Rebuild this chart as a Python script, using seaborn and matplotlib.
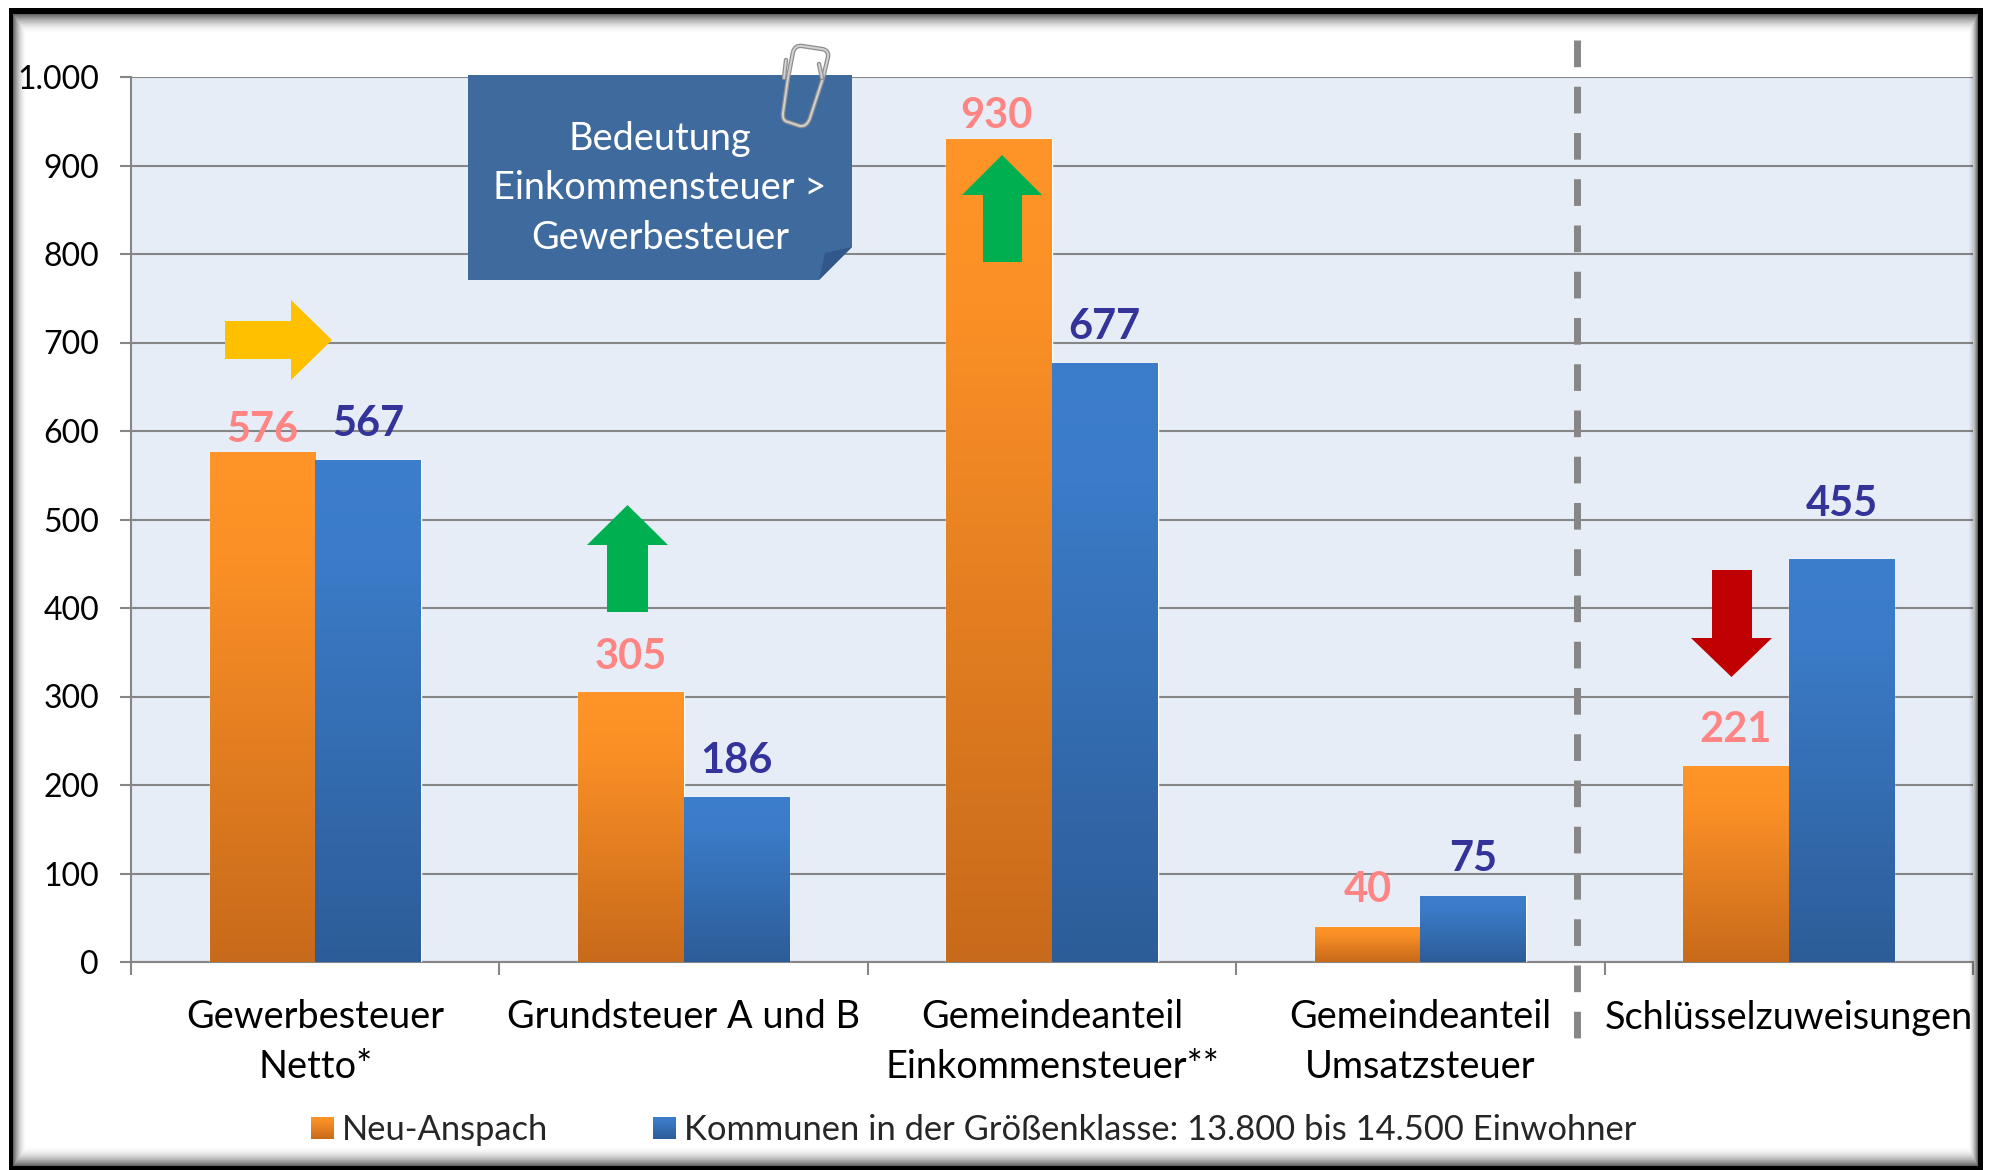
import numpy as np
import pandas as pd
import matplotlib
matplotlib.use("Agg")
import matplotlib.pyplot as plt
import seaborn as sns
from matplotlib.patches import Polygon
from matplotlib.colors import LinearSegmentedColormap
from matplotlib.path import Path
from matplotlib.patches import PathPatch

# data
categories = ["Gewerbesteuer\nNetto*", "Grundsteuer A und B", "Gemeindeanteil\nEinkommensteuer**",
              "Gemeindeanteil\nUmsatzsteuer", "Schlüsselzuweisungen"]
neu_anspach = [576, 305, 930, 40, 221]
kommunen = [567, 186, 677, 75, 455]
series_names = ["Neu-Anspach", "Kommunen in der Größenklasse: 13.800 bis 14.500 Einwohner"]
y_ticks = list(range(0, 1001, 100))
y_tick_labels = ["0", "100", "200", "300", "400", "500", "600", "700", "800", "900", "1.000"]

W, H = 1996, 1170
GREY = "#868686"

sns.set_theme(style="white")
plt.rcParams["font.family"] = ["Lato", "DejaVu Sans"]

df = pd.DataFrame({
    "cat": categories * 2,
    "val": neu_anspach + kommunen,
    "series": [series_names[0]] * 5 + [series_names[1]] * 5,
})

fig = plt.figure(figsize=(W / 100, H / 100), dpi=100, facecolor="white")
ax = fig.add_axes([131 / W, 1 - 962 / H, (1973 - 131) / W, (962 - 77) / H], zorder=1)
ax.set_facecolor("#E6EDF6")

sns.barplot(data=df, x="cat", y="val", hue="series", palette=["#E57F24", "#3570B5"],
            width=0.573, gap=0, saturation=1, ax=ax, zorder=3)
ax.set_xlim(-0.5, 4.5)
ax.set_ylim(0, 1000)
ax.set_xlabel("")
ax.set_ylabel("")

# gradient fill on top of the bars
cmap_orange = LinearSegmentedColormap.from_list("o", [(0, "#FF9428"), (0.2, "#FB9026"), (1, "#C86A1B")])
cmap_blue = LinearSegmentedColormap.from_list("b", [(0, "#3D7ECC"), (0.2, "#3B7BC8"), (1, "#2C5D98")])
grad = np.linspace(0, 1, 256).reshape(-1, 1)
bars = [p for p in ax.patches if p.get_height() > 0][:10]
for i, bar in enumerate(bars):
    x0, w, h = bar.get_x(), bar.get_width(), bar.get_height()
    im = ax.imshow(grad, cmap=cmap_orange if i < 5 else cmap_blue, aspect="auto",
                   extent=[x0, x0 + w, 0, h], origin="upper", zorder=3.5)
    im.set_clip_path(bar)
ax.set_xlim(-0.5, 4.5)
ax.set_ylim(0, 1000)

# axes styling
ax.set_yticks(y_ticks)
ax.set_yticklabels(y_tick_labels)
ax.set_xticks(range(5))
ax.set_xticklabels(categories, linespacing=1.47)
ax.set_xticks(np.arange(-0.5, 5), minor=True)
ax.tick_params(axis="x", which="major", length=0, pad=27, labelsize=27.3, labelcolor="black")
ax.tick_params(axis="x", which="minor", length=9.5, width=1.5, color=GREY, bottom=True)
ax.tick_params(axis="y", length=8, width=1.5, color=GREY, left=True, pad=15, labelsize=23, labelcolor="black")
ax.grid(axis="y", color=GREY, linewidth=1.5, zorder=1)
ax.set_axisbelow(True)
for side in ["top", "right"]:
    ax.spines[side].set_visible(False)
for side in ["left", "bottom"]:
    ax.spines[side].set_color(GREY)
    ax.spines[side].set_linewidth(1.5)

# value labels, placed by hand in the original
offs_o = [22, 35, 23, 37, 36]
offs_b = [36, 36, 36, 37, 55]
for i, bar in enumerate(bars):
    off = offs_o[i] if i < 5 else offs_b[i - 5]
    ax.annotate(str(int(bar.get_height())), (bar.get_x() + bar.get_width() / 2, bar.get_height()),
                xytext=(-2 if i == 2 else 0, off * 0.72), textcoords="offset points", ha="center", va="center",
                fontsize=30, fontweight="bold", color="#FF8585" if i < 5 else "#333399", zorder=6)

# legend
leg = ax.legend(loc="center left", frameon=False, ncol=2, fontsize=24.8,
                handlelength=0.64, handleheight=0.64, handletextpad=0.26, columnspacing=3.05,
                borderpad=0, borderaxespad=0)
leg.set_bbox_to_anchor((311 / W, 1 - 1130 / H), transform=fig.transFigure)
fig.canvas.draw()
for handle, c in zip(leg.legend_handles, [cmap_orange, cmap_blue]):
    bb = handle.get_window_extent()
    lax = fig.add_axes([bb.x0 / W, bb.y0 / H, bb.width / W, bb.height / H], zorder=5)
    lax.imshow(grad, cmap=c, aspect="auto")
    lax.axis("off")

# overlay in pixel coordinates: frame, shadow, note, arrows, divider
ov = fig.add_axes([0, 0, 1, 1], zorder=10)
ov.patch.set_alpha(0)
ov.axis("off")
yy, xx = np.mgrid[0:H, 0:W]
d = np.minimum.reduce([(xx - 13) / 14, (yy - 14) / 20, (1977 - xx) / 10, (1165 - yy) / 20])
alpha = np.clip(1 - d, 0, 1) ** 2 * 0.6
shadow = np.zeros((H, W, 4))
shadow[..., 3] = alpha
outside = (xx < 9) | (yy < 8) | (xx > 1982)
shadow[outside] = [1, 1, 1, 1]
frame = ((xx >= 9) & (xx < 13) | (xx > 1977) & (xx <= 1982) | (yy >= 8) & (yy < 14) | (yy > 1165)) & ~outside
shadow[frame] = [0, 0, 0, 1]
ov.imshow(shadow, extent=[0, W, H, 0], aspect="auto", interpolation="nearest")
ov.set_xlim(0, W)
ov.set_ylim(H, 0)

ov.plot([1577, 1577], [40, 1039], color=GREY, linewidth=5, dashes=(3.84, 2.82), dash_capstyle="butt")

# note
ov.add_patch(Polygon([(468, 75), (852, 75), (852, 247), (819, 280), (468, 280)], closed=True,
                     facecolor="#3F6A9E", edgecolor="none"))
ov.add_patch(Polygon([(819, 280), (825, 253), (852, 247)], closed=True, facecolor="#32578A", edgecolor="none"))
for txt, y in zip(["Bedeutung", "Einkommensteuer >", "Gewerbesteuer"], [139, 188, 238]):
    ov.text(660, y, txt, color="white", ha="center", va="center", fontsize=27.3)

# paper clip
clip = Path([(793, 52), (795, 45), (802, 46), (822, 49), (829, 50), (828, 57), (823, 78), (810, 118),
             (807, 127), (800, 126), (788, 122), (782, 121), (783, 113), (788, 78), (793, 52)],
            [Path.MOVETO, Path.CURVE3, Path.CURVE3, Path.LINETO, Path.CURVE3, Path.CURVE3, Path.LINETO, Path.LINETO,
             Path.CURVE3, Path.CURVE3, Path.LINETO, Path.CURVE3, Path.CURVE3, Path.LINETO, Path.LINETO])
for lw, col in [(3.2, "#8E8E8E"), (1.4, "#D2D2D2")]:
    ov.add_patch(PathPatch(clip, fill=False, edgecolor=col, linewidth=lw))
    ov.plot([786, 784], [60, 78], color=col, linewidth=lw)
    ov.plot([819, 822], [64, 78], color=col, linewidth=lw)


def arrow_up(x0, x1, sx0, sx1, tip, base, end, color):
    ov.add_patch(Polygon([((x0 + x1) / 2, tip), (x1, base), (sx1, base), (sx1, end), (sx0, end), (sx0, base), (x0, base)],
                         closed=True, facecolor=color, edgecolor="none"))


arrow_up(587, 668, 607, 648, 505, 545, 612, "#00B050")
arrow_up(962, 1042, 983, 1022, 155, 195, 262, "#00B050")
arrow_up(1691, 1772, 1712, 1752, 677, 638, 570, "#C00000")
ov.add_patch(Polygon([(225, 321), (291, 321), (291, 300), (332, 340), (291, 380), (291, 359), (225, 359)],
                     closed=True, facecolor="#FFC000", edgecolor="none"))

fig.savefig("out.png", dpi=100)
